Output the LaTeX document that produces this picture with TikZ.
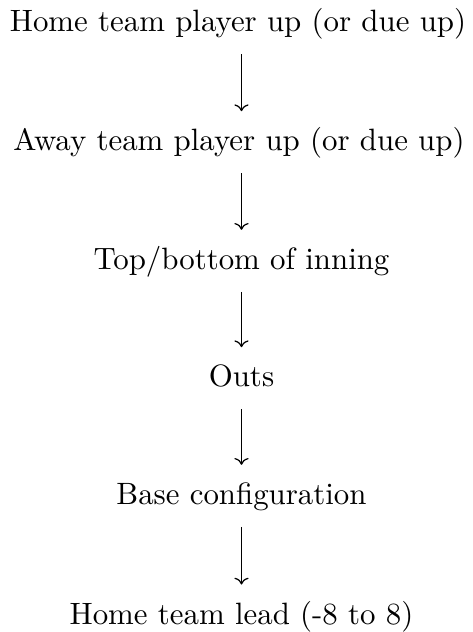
\documentclass[tikz,border=0pt]{standalone}
\usetikzlibrary{arrows.meta}
\begin{document}
\begin{tikzpicture}[x=0.324pt,y=-0.324pt,
  lbl/.style={anchor=base,inner sep=0pt,outer sep=0pt,text height=7pt,text depth=2.5pt,font=\fontsize{10}{12}\selectfont},
  arr/.style={-{To[length=2.2pt,width=4.6pt]},line width=0.4pt,shorten <=4.8pt,shorten >=5.8pt}]
\useasboundingbox (0,0) rectangle (473,632);
\node[lbl] (n1) at (238,31.5) {Home team player up (or due up)};
\node[lbl] (n2) at (239,150.7) {Away team player up (or due up)};
\node[lbl] (n3) at (241.5,269.3) {Top/bottom of inning};
\node[lbl] (n4) at (241.5,386.7) {Outs};
\node[lbl] (n5) at (241.5,504.3) {Base configuration};
\node[lbl] (n6) at (241.5,624) {Home team lead (-8 to 8)};
\foreach \a/\b in {n1/n2,n2/n3,n3/n4,n4/n5,n5/n6}
  \draw[arr] (\a.south -| 241.5,0) -- (\b.north -| 241.5,0);
\end{tikzpicture}
\end{document}
